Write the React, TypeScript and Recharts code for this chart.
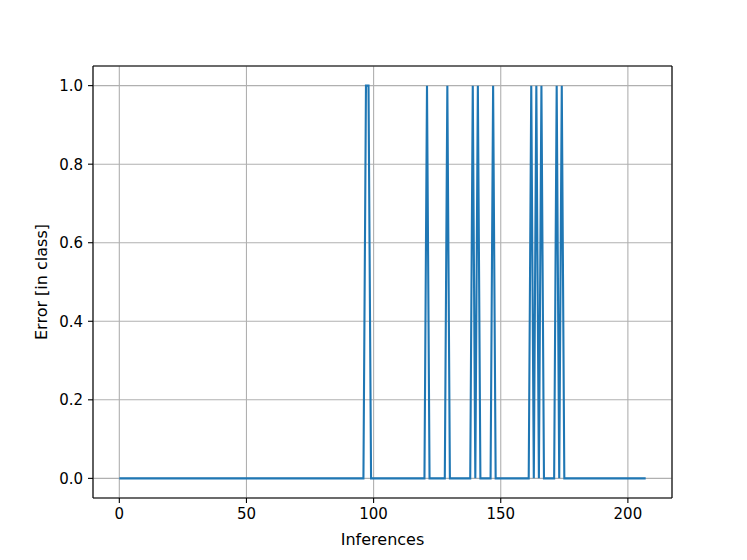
import React from "react";
import { LineChart, Line, XAxis, YAxis, CartesianGrid, ReferenceLine } from "recharts";

const totalInferences = 208;
const errorIndices = [97, 98, 121, 129, 139, 141, 147, 162, 164, 166, 172, 174];
const xTicks = [0, 50, 100, 150, 200];
const yTicks = [0, 0.2, 0.4, 0.6, 0.8, 1.0];
const xDomain: [number, number] = [-10.35, 217.35];
const yDomain: [number, number] = [-0.05, 1.05];

const data = Array.from({ length: totalInferences }, (_, i) => ({
  x: i,
  error: errorIndices.includes(i) ? 1 : 0,
}));

const font = "'DejaVu Sans', sans-serif";

export default function App() {
  return (
    <div style={{ position: "absolute", left: 0, top: 0, width: 747, height: 560, background: "#fff" }}>
      <LineChart
        width={747}
        height={560}
        data={data}
        margin={{ top: 66, right: 75, bottom: 22, left: 33 }}
        style={{ fontFamily: font }}
      >
        <CartesianGrid stroke="#b0b0b0" strokeWidth={1.1} />
        <XAxis
          dataKey="x"
          type="number"
          domain={xDomain}
          ticks={xTicks}
          allowDataOverflow
          height={40}
          tickSize={5}
          tickMargin={5}
          axisLine={{ stroke: "#000", strokeWidth: 1.1 }}
          tickLine={{ stroke: "#000", strokeWidth: 1.1 }}
          tick={{ fill: "#000", fontSize: 15, fontFamily: font }}
          label={{ value: "Inferences", position: "insideBottom", offset: -7, fill: "#000", fontSize: 16, fontFamily: font }}
        />
        <YAxis
          type="number"
          domain={yDomain}
          ticks={yTicks}
          allowDataOverflow
          width={60}
          tickSize={5}
          tickMargin={5}
          tickFormatter={(v: number) => v.toFixed(1)}
          axisLine={{ stroke: "#000", strokeWidth: 1.1 }}
          tickLine={{ stroke: "#000", strokeWidth: 1.1 }}
          tick={{ fill: "#000", fontSize: 15, fontFamily: font }}
          label={{ value: "Error [in class]", angle: -90, position: "insideLeft", offset: 7, dx: 1, fill: "#000", fontSize: 16, fontFamily: font, style: { textAnchor: "middle" } }}
        />
        <ReferenceLine y={yDomain[1]} stroke="#000" strokeWidth={1.1} />
        <ReferenceLine x={xDomain[1]} stroke="#000" strokeWidth={1.1} />
        <Line
          type="linear"
          dataKey="error"
          stroke="#1f77b4"
          strokeWidth={2.1}
          dot={false}
          isAnimationActive={false}
        />
      </LineChart>
    </div>
  );
}
